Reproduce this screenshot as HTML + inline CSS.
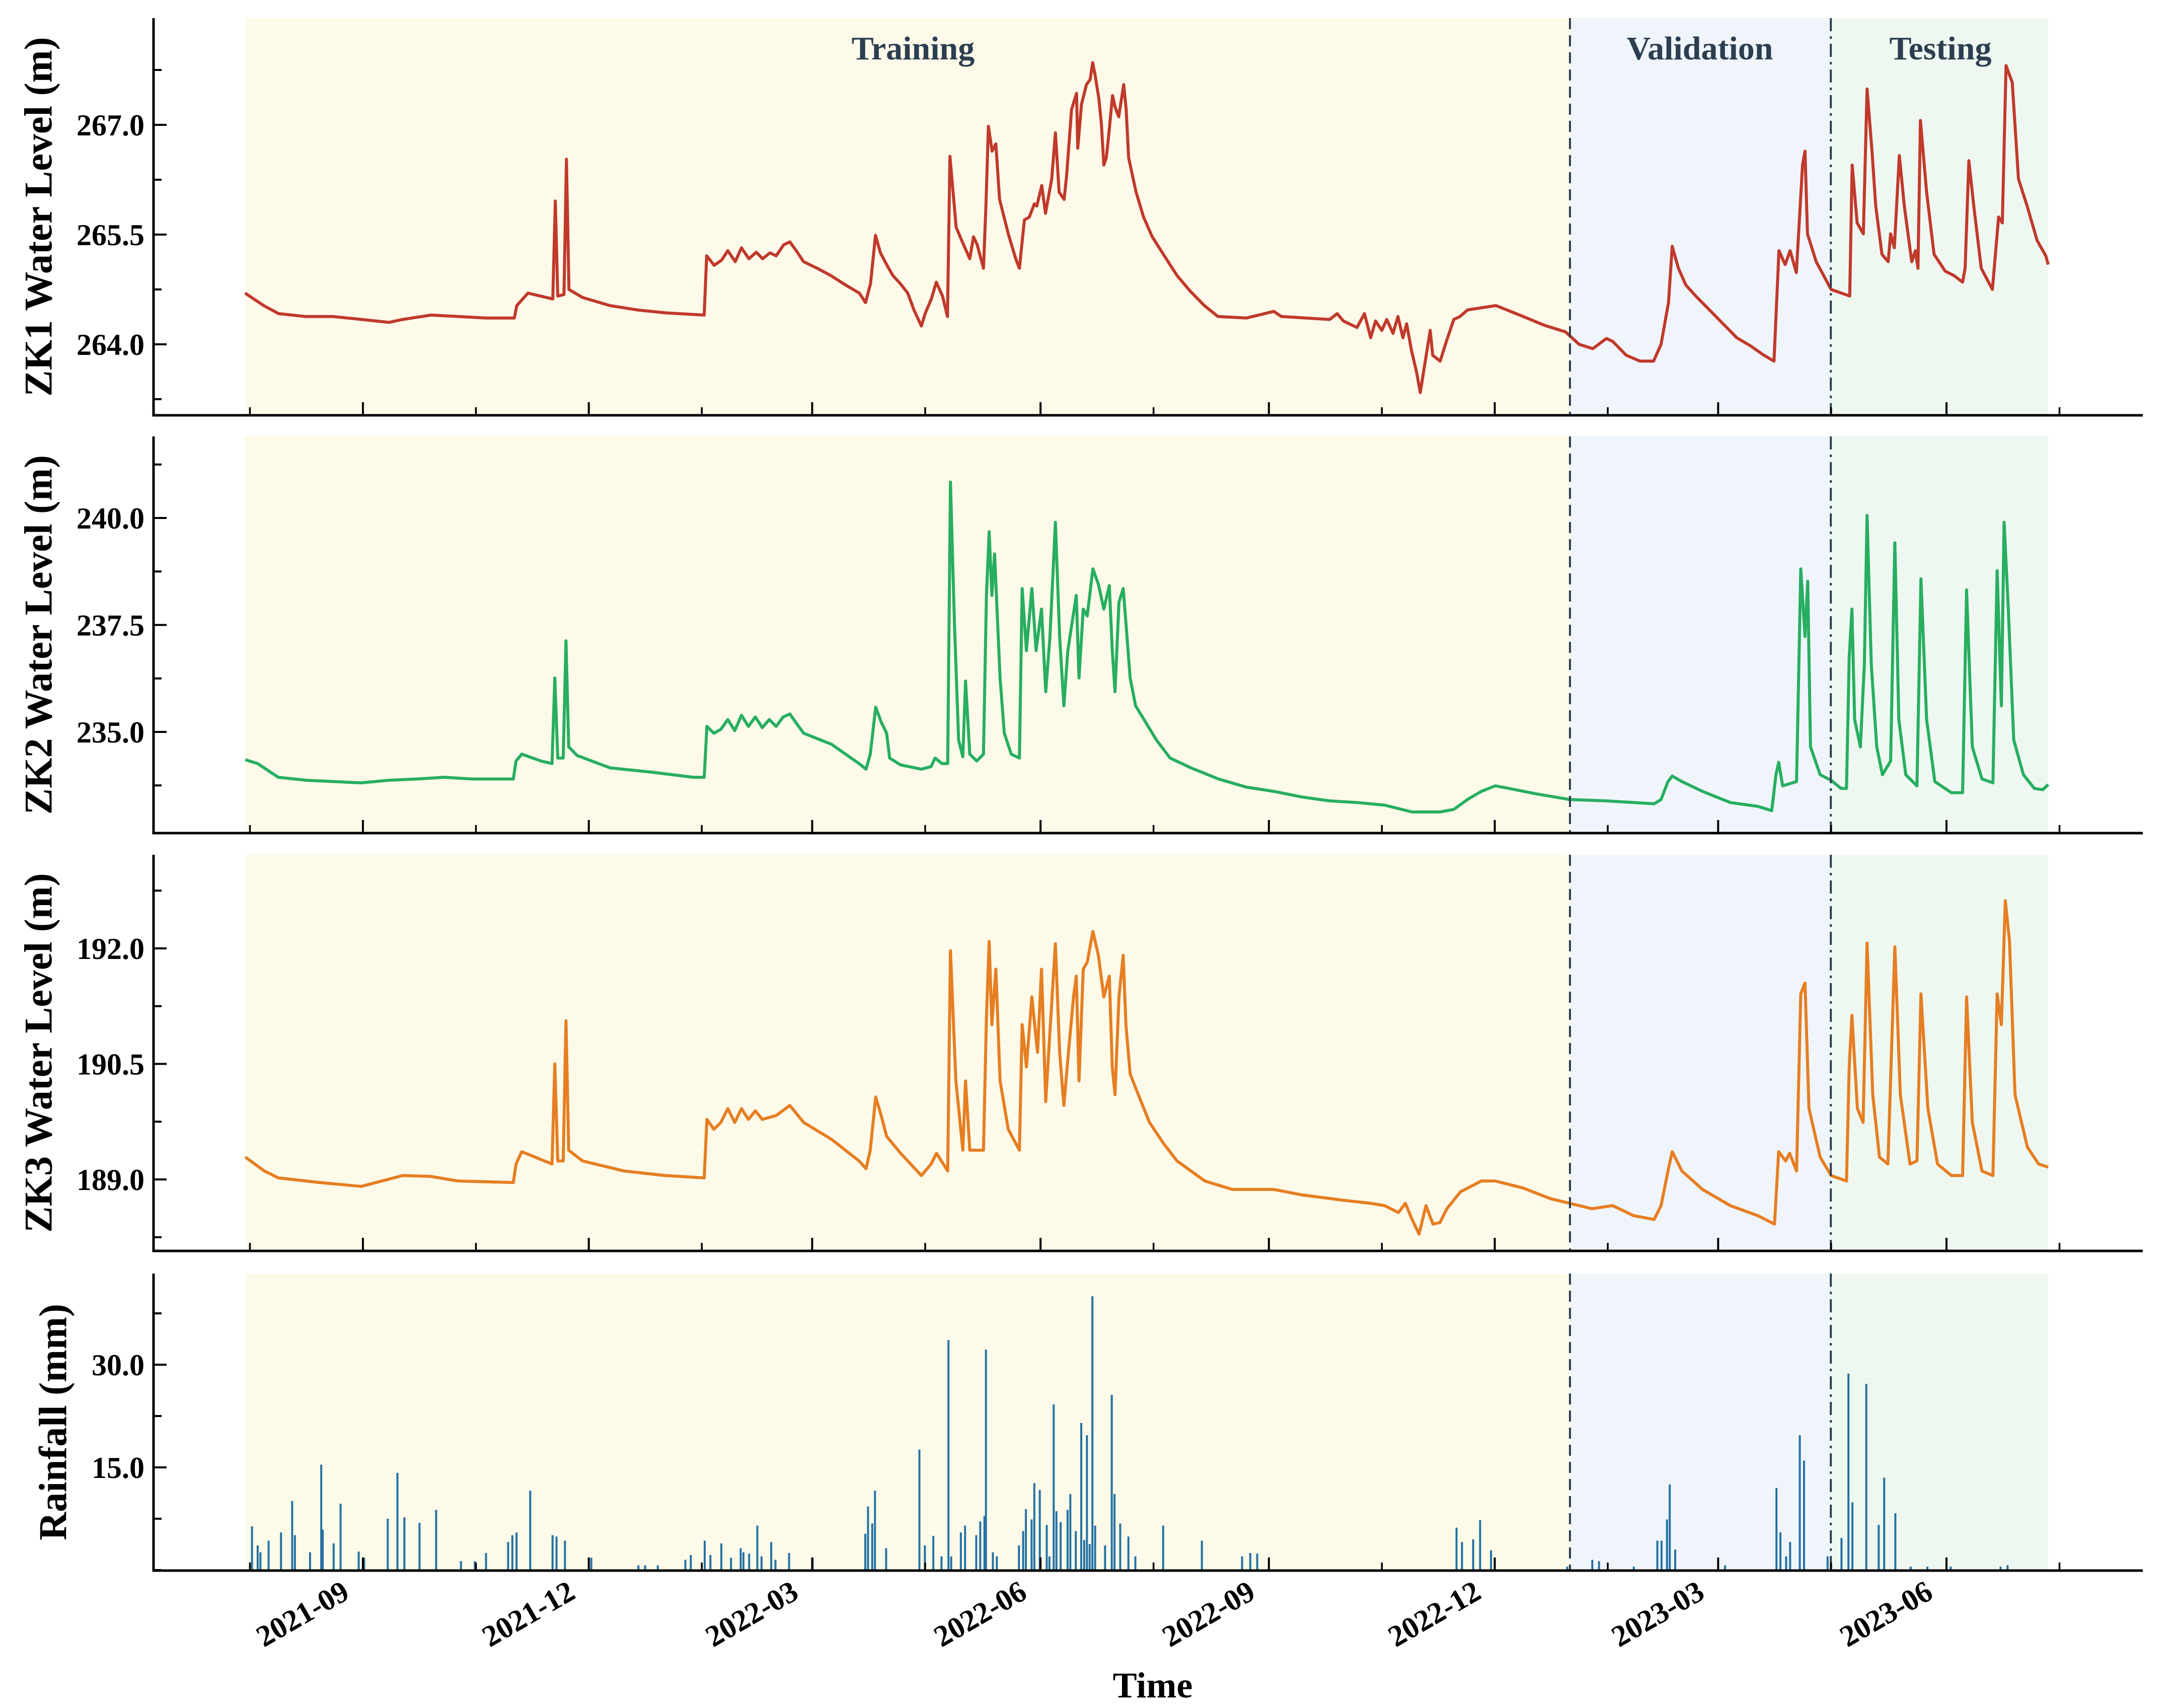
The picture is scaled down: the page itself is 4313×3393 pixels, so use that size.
<!DOCTYPE html>
<html><head><meta charset="utf-8">
<style>
html,body{margin:0;padding:0;background:#fff;}
svg{display:block;}
text{font-family:"Liberation Serif",serif;font-weight:bold;}
</style></head>
<body>
<svg id="chart" xmlns="http://www.w3.org/2000/svg" width="4313" height="3393" viewBox="0 0 4313 3393"></svg>
<script>
// ---- data (days since 2021-07-15) ----
const periodBounds = [0.5, 534.3, 639.4, 727]; // training start, validation start, testing start, end
const periodNames = ["Training", "Validation", "Testing"];
const tickDates = ["2021-09", "2021-12", "2022-03", "2022-06", "2022-09", "2022-12", "2023-03", "2023-06"];
const tickDays = [48, 139, 229, 321, 413, 504, 594, 686];

const zk1Days = [0.5,8,14,25,36,47.5,58.5,64,75.5,86.5,97.5,109,110,114.5,124.5,125.5,126.5,129,130,131,136.5,147.5,158.5,170,185.5,186.5,189.5,192.5,195,198,200.5,203.5,206.5,209,212,214.5,217.5,220,223,225.5,231,236.5,242.5,248,250.5,252.5,254.5,256.5,259,261.5,264.5,267.5,270,273,274.5,277,279,281.5,283.5,284.5,287,289.5,292.5,294,295.5,298,299,300,301.5,303,304.5,308,311,312.5,314.5,316.5,318.5,319.5,321.5,323,325.5,327,328.5,330.5,331.5,333.5,335.5,336,337.5,339.5,341,342,343,344.5,345.5,346.5,347.5,348.5,350,351,352.5,354.5,355.5,356.5,359.5,362.5,366,370.5,376,381.5,387,392.5,404,415,418,437.5,440.5,443,448.5,451.5,454,456,458.5,460.5,463,465,467,468.5,470.5,472.5,474,476,478,479,482,484.5,487.5,490,493,504.5,515.5,524,532.5,538,543.5,549,551.5,557,562.5,568,571,574,575.5,578,581,585,590.5,596,601.5,607,612.5,616.5,618.5,621,623,625.5,628,629,630,633.5,639.5,647,648,650,652.5,654,656,657.5,660,662.5,663.5,665,667,669,672,673.5,674.5,675.5,678,681,685.5,689,692.5,693.5,695,697,700,704.5,707,708.5,710,712.5,715,718.5,722.5,726,727];
const zk1Levels = [264.70,264.53,264.42,264.38,264.38,264.34,264.30,264.34,264.40,264.38,264.36,264.36,264.53,264.70,264.62,265.96,264.66,264.68,266.53,264.75,264.64,264.53,264.47,264.43,264.40,265.21,265.08,265.15,265.28,265.13,265.32,265.17,265.26,265.17,265.25,265.21,265.36,265.40,265.26,265.13,265.04,264.94,264.81,264.70,264.57,264.83,265.49,265.25,265.09,264.94,264.83,264.70,264.47,264.25,264.42,264.62,264.85,264.66,264.38,266.57,265.60,265.40,265.17,265.47,265.36,265.04,265.89,266.98,266.64,266.74,265.98,265.51,265.17,265.04,265.70,265.74,265.92,265.89,266.17,265.79,266.26,266.89,266.08,265.98,266.30,267.21,267.43,266.68,267.28,267.55,267.62,267.85,267.68,267.36,267.02,266.45,266.55,266.87,267.40,267.25,267.11,267.55,267.21,266.55,266.08,265.74,265.47,265.23,264.94,264.72,264.53,264.38,264.36,264.45,264.38,264.34,264.42,264.32,264.23,264.42,264.09,264.32,264.19,264.34,264.15,264.38,264.09,264.28,263.91,263.62,263.34,263.77,264.19,263.85,263.77,264.04,264.34,264.38,264.47,264.53,264.38,264.26,264.17,264.00,263.94,264.08,264.04,263.85,263.77,263.77,264.00,264.57,265.34,265.04,264.81,264.66,264.47,264.28,264.09,263.98,263.85,263.77,265.28,265.09,265.28,264.98,266.45,266.64,265.51,265.13,264.75,264.66,266.45,265.66,265.51,267.49,266.64,265.89,265.23,265.13,265.51,265.32,266.58,265.89,265.13,265.28,265.04,267.06,266.08,265.23,265.00,264.94,264.85,265.04,266.51,265.89,265.04,264.75,265.74,265.66,267.81,267.58,266.26,265.89,265.42,265.21,265.09];

const zk2Days = [0.6,5.6,13.9,25.1,36.2,47.3,58.5,69.6,80.8,91.9,108.6,109.7,112,119.8,124.2,125.3,126.5,128.7,129.8,130.9,134.3,147.6,164.3,181.1,185.5,186.6,189.4,192.2,195,197.8,200.5,203.3,206.1,208.9,211.7,214.5,217.3,220,222.8,225.6,236.8,247.9,250.7,252.4,254.6,256.8,259,260.2,264.6,273,276.9,278.5,281.3,283.6,284.7,286.3,288,289.7,290.8,292.5,295.3,298,299.2,300.3,301.4,302.5,304.7,306.4,309.2,312.5,313.6,315.3,317.5,319.2,321.4,323.1,324.8,327,328.7,330.4,332,333.7,335.4,336.5,338.2,339.8,342.1,344.3,346.5,348.7,349.9,351,352.6,354.3,355.4,357.1,359.3,362.7,367.7,373.2,381.6,392.7,403.9,415,426.2,437.3,448.5,459.6,470.7,481.9,487.5,493,498.6,504.2,509.7,520.9,534.2,548.7,568.2,571,573.8,575.5,579.4,587.7,598.9,610,615.6,617.3,618.4,620,625.6,627.3,629,630.1,631.2,635.1,639.5,643.5,645.7,646.8,647.9,649,651.3,652.9,654,655.7,657.9,660.2,663.5,665.2,666.8,669.6,674.1,675.7,678,681.3,688,692.5,694.1,696.4,700.3,704.7,706.4,708.1,709.2,710.9,713.1,717,721.4,724.8,727];
const zk2Levels = [234.35,234.26,233.94,233.87,233.84,233.81,233.87,233.90,233.94,233.90,233.90,234.32,234.48,234.32,234.26,236.26,234.39,234.39,237.13,234.65,234.45,234.16,234.06,233.94,233.94,235.13,234.97,235.06,235.29,235.03,235.39,235.13,235.35,235.10,235.29,235.13,235.35,235.42,235.19,234.97,234.71,234.26,234.13,234.48,235.58,235.23,234.97,234.39,234.23,234.13,234.19,234.39,234.26,234.26,240.84,237.55,234.81,234.42,236.19,234.48,234.32,234.48,238.19,239.68,238.19,239.16,236.26,234.97,234.48,234.39,238.35,236.90,238.35,236.90,237.87,235.94,237.23,239.90,237.23,235.61,236.90,237.55,238.19,236.26,237.87,237.71,238.81,238.45,237.87,238.42,236.90,235.94,238.03,238.35,237.55,236.26,235.61,235.29,234.81,234.39,234.16,233.90,233.71,233.61,233.48,233.39,233.35,233.29,233.13,233.13,233.19,233.42,233.61,233.74,233.68,233.55,233.42,233.39,233.32,233.42,233.84,233.97,233.84,233.61,233.35,233.26,233.16,234.00,234.29,233.74,233.84,238.81,237.23,238.52,234.65,234.00,233.87,233.68,233.68,236.74,237.87,235.29,234.65,236.58,240.06,236.58,234.65,234.00,234.32,239.42,235.29,234.00,233.74,238.58,235.29,233.84,233.58,233.58,238.32,234.65,233.90,233.81,238.77,235.61,239.90,237.87,234.81,234.00,233.68,233.65,233.77];

const zk3Days = [0.6,8.3,13.9,30.6,47.3,64,75.2,86.3,108.6,109.7,112,124.2,125.3,126.5,128.7,129.8,130.9,136.5,153.2,169.9,185.5,186.6,189.4,192.2,195,197.8,200.5,203.3,206.1,208.9,214.5,220,225.6,236.8,247.9,250.7,252.4,254.6,256.8,259,264.6,273,276.9,279.1,283.6,284.7,286.9,289.7,290.8,292.5,298,299.2,300.3,301.4,303,304.7,308,312.5,313.6,315.3,317.5,319.8,321.4,323.1,324.8,327,328.7,330.4,332,334.3,335.4,336.5,338.2,339.8,342.1,344.3,346.5,348.7,349.9,351,352.6,354.3,355.4,357.1,360.4,364.9,370.5,376,387.2,398.3,415,426.2,442.9,454,459.6,465.2,468,470.7,473.5,476.3,479.1,481.9,484.7,490.2,498.6,504.2,515.3,526.5,534.2,543.2,551.5,559.9,568.2,571,573.8,575.5,579.4,587.7,598.9,610,616.7,618.4,621.2,622.8,625.6,627.3,629,630.6,635.1,639.5,645.7,646.8,647.9,650.1,652.4,654,656.3,659,662.4,665.2,667.4,671.3,674.1,675.7,678.5,682.4,688,692.5,694.1,696.4,700.3,704.7,706.4,708.1,709.7,711.4,713.6,718.6,723.1,727];
const zk3Levels = [189.29,189.11,189.02,188.96,188.91,189.05,189.04,188.98,188.96,189.20,189.36,189.20,190.50,189.24,189.24,191.06,189.38,189.24,189.11,189.05,189.02,189.78,189.65,189.74,189.92,189.74,189.92,189.78,189.89,189.78,189.83,189.96,189.74,189.52,189.24,189.14,189.38,190.07,189.83,189.56,189.34,189.05,189.20,189.34,189.11,191.97,190.28,189.38,190.28,189.38,189.38,191.10,192.09,191.01,191.73,190.28,189.65,189.38,191.01,190.46,191.37,190.65,191.73,190.01,190.92,192.06,190.65,189.96,190.56,191.37,191.64,190.28,191.73,191.82,192.22,191.91,191.37,191.64,190.46,190.10,191.37,191.91,191.01,190.37,190.10,189.74,189.47,189.24,188.98,188.87,188.87,188.80,188.73,188.69,188.66,188.57,188.69,188.48,188.29,188.66,188.42,188.44,188.62,188.84,188.98,188.98,188.89,188.75,188.69,188.62,188.66,188.53,188.48,188.66,189.11,189.36,189.11,188.87,188.66,188.53,188.42,189.36,189.24,189.34,189.11,191.41,191.55,189.92,189.29,189.05,188.98,190.46,191.13,189.92,189.74,192.07,190.10,189.29,189.20,192.02,190.10,189.20,189.24,191.41,189.92,189.20,189.05,189.05,191.37,189.74,189.11,189.05,191.41,191.01,192.62,192.09,190.10,189.42,189.20,189.16];

const rainDays = [3.3,5.6,6.7,10,15,19.5,20.6,26.7,31.2,31.8,36.2,39,46.3,48.5,58,61.9,64.7,70.8,77.5,87.5,93.1,97.6,106.5,108.2,109.9,115.4,124.4,126,129.4,140,159,161.7,166.8,177.9,180.1,185.7,188,192.4,196.3,200.2,201.3,203.6,206.9,208.6,212.5,214.2,219.7,229.2,250.4,251.5,253.2,254.3,258.8,272.2,274.4,277.8,281.1,283.9,285,288.9,290.6,295.1,296.7,298.4,299,301.8,303.4,312.3,314,315.1,317.4,318.5,320.7,323.5,324.6,326.3,327.4,329.1,331.9,333,335.2,337.4,338.6,339.7,340.8,341.9,343,347,349.7,350.8,353.1,356.4,359.2,370.4,386,402.2,405.5,408.3,488.6,490.8,495.3,498.1,502.5,533.2,543.3,546,560,569.5,571.2,573.4,574.5,576.7,596.8,617.5,619.1,621.4,623,626.9,628.6,638.1,643.7,646.5,648.1,653.7,658.7,660.9,665.4,671.6,678.3,687.7,707.8,710.6];
const rainMM = [6.4,3.6,2.6,4.3,5.5,10.1,5.1,2.6,15.4,5.9,3.9,9.7,2.7,1.8,7.5,14.2,7.7,6.9,8.8,1.3,1.3,2.5,4.1,5.1,5.5,11.6,5.1,4.9,4.3,1.8,0.7,0.7,0.7,1.5,2.2,4.3,2.2,3.9,1.8,3.2,2.6,2.4,6.5,2.0,4.1,1.5,2.5,1.8,5.3,9.3,6.8,11.6,3.2,17.6,3.6,5.0,2.0,33.6,2.0,5.5,6.5,5.1,7.1,7.9,32.2,2.6,2.0,3.6,5.7,8.9,7.4,12.7,11.7,6.6,2.0,24.2,8.6,7.0,8.8,11.1,5.7,21.5,4.4,19.7,3.8,40.0,6.5,3.6,25.6,11.1,6.8,4.9,2.0,6.5,4.3,2.0,2.5,2.4,6.2,4.1,4.5,7.3,2.9,0.5,1.5,1.3,0.5,4.3,4.3,7.4,12.5,3.0,0.7,12.0,5.5,2.0,4.1,19.7,16.0,2.0,4.7,28.7,9.9,27.2,6.6,13.5,8.3,0.5,0.5,0.5,0.5,0.7];

const zk1Ticks = [264.0, 265.5, 267.0];
const zk2Ticks = [235.0, 237.5, 240.0];
const zk3Ticks = [189.0, 190.5, 192.0];
const rainTicks = [15.0, 30.0];

// ---- layout ----
const NS = "http://www.w3.org/2000/svg";
const svg = document.getElementById("chart");
const X0 = 305, X1 = 4257;
function xOf(d){ return 721 + (d - 48) * 4.931; }
function mk(tag, attrs, parent){
  const e = document.createElementNS(NS, tag);
  for (const k in attrs) e.setAttribute(k, attrs[k]);
  (parent || svg).appendChild(e);
  return e;
}
const panels = [
  {name:"zk1", top:36, bottom:825, ref:264, refY:684, k:145.33, ticks:zk1Ticks, minor:0.75, label:"ZK1 Water Level (m)", lx:76, days:zk1Days, vals:zk1Levels, color:"#c0392b"},
  {name:"zk2", top:867, bottom:1655, ref:235, refY:1454, k:85, ticks:zk2Ticks, minor:1.25, label:"ZK2 Water Level (m)", lx:76, days:zk2Days, vals:zk2Levels, color:"#27ae60"},
  {name:"zk3", top:1698, bottom:2485, ref:189, refY:2343, k:153, ticks:zk3Ticks, minor:0.75, label:"ZK3 Water Level (m)", lx:76, days:zk3Days, vals:zk3Levels, color:"#e67e22"},
  {name:"rainfall", top:2530, bottom:3120, ref:0, refY:3119, k:13.6, ticks:rainTicks, minor:7.5, label:"Rainfall (mm)", lx:105, days:null, vals:null, color:"#2471a3"}
];
const shadeColors = ["#fdfaea", "#f0f5fc", "#eef8f1"];

panels.forEach(function(p, pi){
  const g = mk("g", {});
  
  
  const yOf = v => p.refY - (v - p.ref) * p.k;
  for (let i = 0; i < 3; i++) {
    const r = mk("rect", {x:xOf(periodBounds[i]), y:p.top, width:xOf(periodBounds[i+1]) - xOf(periodBounds[i]), height:p.bottom - p.top, fill:shadeColors[i]}, g);
    
    
  }
  if (p.days) {
    let d = "";
    for (let i = 0; i < p.days.length; i++) d += (i ? "L" : "M") + xOf(p.days[i]).toFixed(1) + "," + yOf(p.vals[i]).toFixed(1);
    const path = mk("path", {d:d, fill:"none", stroke:p.color, "stroke-width":6, "stroke-linejoin":"round"}, g);
    
    
  } else {
    for (let i = 0; i < rainDays.length; i++) {
      const h = rainMM[i] * p.k;
      const b = mk("rect", {x:xOf(rainDays[i]) - 2, y:p.refY - h, width:4, height:h, fill:p.color}, g);
      
      
    }
  }
  const v1 = mk("line", {x1:xOf(periodBounds[1]), x2:xOf(periodBounds[1]), y1:p.top, y2:p.bottom, stroke:"#2c3e50", "stroke-width":4, "stroke-dasharray":"22,12"}, g);
  
  
  const v2 = mk("line", {x1:xOf(periodBounds[2]), x2:xOf(periodBounds[2]), y1:p.top, y2:p.bottom, stroke:"#2c3e50", "stroke-width":4, "stroke-dasharray":"26,10,5,10"}, g);
  
  
  const sl = mk("line", {x1:X0, x2:X0, y1:p.top, y2:p.bottom + 2.5, stroke:"#000", "stroke-width":5}, g);
  
  
  const sb = mk("line", {x1:X0 - 2.5, x2:X1, y1:p.bottom, y2:p.bottom, stroke:"#000", "stroke-width":5}, g);
  
  
  const lo = p.ref - (p.bottom - p.refY) / p.k, hi = p.ref + (p.refY - p.top) / p.k;
  for (let v = Math.ceil(lo / p.minor) * p.minor; v <= hi; v += p.minor) {
    const y = yOf(v);
    const isMajor = p.ticks.some(t => Math.abs(t - v) < 1e-6);
    mk("line", {x1:X0, x2:X0 + (isMajor ? 26 : 16), y1:y, y2:y, stroke:"#000", "stroke-width":4}, g);
  }
  p.ticks.forEach(function(t){
    const tl = mk("text", {x:X0 - 18, y:yOf(t) + 21, "text-anchor":"end", "font-size":60, fill:"#000"}, g);
    tl.textContent = t.toFixed(1);
    
    
  });
  tickDays.forEach(function(d){
    const x = xOf(d);
    mk("line", {x1:x, x2:x, y1:p.bottom, y2:p.bottom - 26, stroke:"#000", "stroke-width":4}, g);
  });
  for (let i = -1; i < tickDays.length; i++) {
    const x = i < 0 ? xOf(tickDays[0]) - 224.5 : xOf(tickDays[i]) + 224.5;
    if (x < X0 || x > X1) continue;
    mk("line", {x1:x, x2:x, y1:p.bottom, y2:p.bottom - 16, stroke:"#000", "stroke-width":3.5}, g);
  }
  const cy = (p.top + p.bottom) / 2;
  const yl = mk("text", {x:p.lx, y:cy, transform:"rotate(-90 " + p.lx + " " + cy + ")", "text-anchor":"middle", "dominant-baseline":"central", "font-size":78, fill:"#000"}, g);
  yl.textContent = p.label;
  
  
});

const titleX = [1814, 3377, 3855];
periodNames.forEach(function(n, i){
  const t = mk("text", {x:titleX[i], y:118, "text-anchor":"middle", "font-size":66, fill:"#2c3e50"});
  t.textContent = n;
  
  
});

tickDates.forEach(function(s, i){
  const x = xOf(tickDays[i]) - 34, y = 3155;
  const t = mk("text", {x:x, y:y, transform:"rotate(-30 " + x + " " + y + ")", "text-anchor":"end", "font-size":60, fill:"#000", dy:"0.35em"});
  t.textContent = s;
  
  
});
const xt = mk("text", {x:2290, y:3372, "text-anchor":"middle", "font-size":72, fill:"#000"});
xt.textContent = "Time";


</script>
</body></html>
